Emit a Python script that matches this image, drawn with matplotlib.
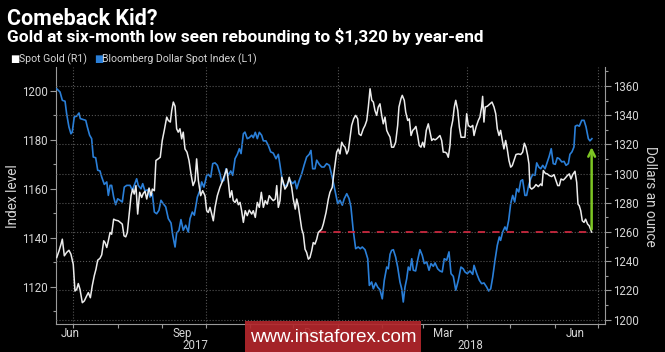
import matplotlib
matplotlib.use("Agg")
import matplotlib.pyplot as plt
import pandas as pd
from matplotlib.patches import Rectangle

# x positions are days after 2017-06-19 (left edge of the chart)
base = pd.Timestamp("2017-06-19")

dollar_days = [0.5, 2.8, 4.4, 6.3, 7.4, 9.0, 10.4, 11.3, 12.7, 14.4, 16.0, 16.9, 19.0, 20.7, 21.8,
               23.4, 24.8, 25.9, 27.6, 29.0, 30.6, 31.8, 33.6, 35.3, 36.4, 37.6, 38.7, 40.1, 41.5,
               42.9, 44.5, 46.1, 47.5, 49.2, 51.5, 53.1, 54.4, 56.1, 57.2, 59.1, 60.3, 61.9, 63.8,
               65.4, 67.0, 68.4, 70.0, 71.6, 73.0, 74.6, 76.3, 78.1, 80.0, 81.2, 82.8, 83.9, 85.5,
               86.9, 88.5, 90.2, 92.0, 93.2, 94.8, 96.2, 98.3, 100.1, 101.3, 102.9, 104.8, 105.9,
               107.6, 109.0, 110.6, 112.2, 114.0, 115.2, 116.8, 118.2, 119.8, 121.5, 122.9, 124.5,
               126.1, 127.5, 128.7, 130.3, 131.4, 133.0, 134.4, 136.1, 137.2, 138.6, 140.0, 141.4,
               143.0, 144.2, 146.0, 147.6, 149.3, 151.1, 153.0, 154.6, 155.8, 157.0, 158.1, 159.9,
               161.5, 162.7, 164.6, 166.2, 167.4, 169.2, 170.9, 172.5, 174.3, 176.1, 177.3, 178.5,
               180.1, 181.3, 183.1, 184.8, 186.4, 188.2, 190.1, 192.1, 194.0, 195.9, 197.5, 199.1,
               200.5, 202.2, 203.8, 205.1, 206.7, 208.4, 210.2, 211.6, 213.0, 214.9, 216.8, 217.9,
               219.5, 220.7, 222.3, 223.7, 225.3, 226.9, 228.3, 230.0, 231.1, 232.3, 233.4, 234.6,
               236.2, 237.6, 239.2, 240.4, 241.5, 242.7, 243.9, 245.0, 246.2, 247.4, 248.5, 250.1,
               251.5, 253.1, 254.7, 256.1, 257.8, 259.4, 260.8, 262.4, 263.6, 265.4, 267.0, 268.6,
               270.0, 271.7, 273.3, 274.7, 276.3, 278.0, 279.8, 281.6, 283.2, 284.4, 286.0, 287.9,
               289.8, 290.7, 292.6, 294.4, 296.0, 297.6, 299.5, 300.9, 302.3, 303.7, 305.3, 306.9,
               308.3, 309.2, 310.6, 312.2, 313.4, 314.8, 316.2, 317.6, 319.0, 320.4, 321.8, 323.2,
               324.5, 326.1, 327.3, 328.7, 330.1, 331.5, 333.1, 334.3, 335.7, 337.1, 338.5, 340.1,
               341.7, 343.0, 344.4, 345.8, 347.2, 348.6, 350.0, 351.7, 353.3, 354.7, 356.3, 357.4,
               358.8, 360.2, 361.1, 362.5, 363.9, 365.6, 367.2, 368.6, 370.2, 371.3, 372.7]
dollar_vals = [1200.9, 1199.6, 1196.2, 1195.8, 1190.7, 1185.3, 1182.5, 1183.2, 1189.4, 1189.7, 1191.0,
               1188.7, 1188.3, 1188.0, 1185.3, 1181.9, 1180.5, 1173.0, 1172.7, 1167.6, 1167.3, 1164.8,
               1161.8, 1162.8, 1157.3, 1161.4, 1161.4, 1156.6, 1153.5, 1155.9, 1155.3, 1154.6, 1160.7,
               1161.4, 1161.4, 1159.4, 1161.4, 1164.1, 1161.4, 1160.0, 1162.1, 1159.1, 1159.6, 1156.6,
               1158.0, 1150.5, 1149.8, 1151.2, 1155.3, 1153.9, 1152.6, 1147.8, 1146.0, 1141.0, 1136.2,
               1141.9, 1143.0, 1147.4, 1143.0, 1145.1, 1142.3, 1147.8, 1150.5, 1149.2, 1156.6, 1159.4,
               1162.8, 1160.7, 1165.5, 1165.9, 1164.8, 1170.3, 1170.6, 1169.6, 1166.2, 1162.8, 1163.5,
               1168.2, 1165.5, 1167.3, 1165.5, 1172.3, 1174.1, 1176.4, 1174.4, 1182.5, 1183.2, 1180.5,
               1180.9, 1181.9, 1180.9, 1183.1, 1180.5, 1183.1, 1181.9, 1179.6, 1179.6, 1177.8, 1175.1,
               1174.6, 1172.3, 1174.1, 1169.6, 1164.8, 1161.8, 1161.0, 1162.8, 1163.5, 1162.1, 1163.2,
               1160.0, 1163.5, 1166.2, 1169.6, 1173.0, 1174.1, 1175.7, 1168.2, 1168.2, 1171.7, 1170.0,
               1168.9, 1168.9, 1170.3, 1169.6, 1164.8, 1159.4, 1153.9, 1155.3, 1153.3, 1156.0, 1158.0,
               1156.0, 1152.6, 1143.0, 1135.5, 1136.2, 1135.5, 1136.2, 1135.1, 1131.4, 1120.5, 1121.9,
               1119.1, 1121.5, 1119.8, 1118.7, 1115.0, 1122.6, 1128.0, 1127.3, 1133.2, 1134.8, 1135.1,
               1132.1, 1128.0, 1121.9, 1119.1, 1113.7, 1119.8, 1123.2, 1128.0, 1126.7, 1131.4, 1126.7,
               1126.4, 1130.8, 1135.1, 1132.8, 1129.4, 1130.1, 1126.7, 1129.4, 1128.3, 1129.7, 1127.3,
               1126.4, 1126.0, 1131.4, 1130.8, 1134.2, 1125.3, 1124.2, 1118.5, 1122.6, 1128.0, 1127.3,
               1126.0, 1125.3, 1126.4, 1125.0, 1128.7, 1125.3, 1122.6, 1121.2, 1121.5, 1119.8, 1118.2,
               1119.1, 1123.9, 1130.8, 1136.9, 1140.3, 1138.9, 1142.3, 1144.4, 1143.0, 1147.1, 1153.9,
               1157.3, 1154.6, 1160.0, 1158.7, 1163.2, 1163.7, 1157.3, 1157.3, 1161.4, 1164.1, 1165.9,
               1165.5, 1170.6, 1168.9, 1168.2, 1169.6, 1168.2, 1171.0, 1173.3, 1176.4, 1170.3, 1170.0,
               1172.7, 1172.3, 1171.0, 1171.2, 1169.6, 1170.3, 1174.1, 1175.1, 1177.1, 1185.6, 1186.0,
               1185.6, 1188.0, 1188.0, 1185.3, 1180.5, 1179.6, 1180.5]

gold_days = [0.5, 2.1, 3.5, 4.4, 5.8, 7.4, 9.0, 10.4, 12.0, 13.2, 14.4, 15.5, 16.7, 18.3, 19.7, 21.3,
             22.5, 23.9, 25.2, 26.6, 27.8, 29.0, 30.6, 31.8, 33.2, 34.1, 35.3, 36.4, 37.6, 38.7, 40.1,
             41.5, 43.3, 44.7, 46.1, 47.3, 48.5, 49.6, 50.8, 52.2, 53.3, 54.4, 55.6, 56.8, 58.2, 59.6,
             60.7, 61.9, 63.1, 64.7, 66.1, 67.0, 68.4, 69.5, 71.1, 72.5, 73.9, 75.3, 77.0, 78.1, 79.5,
             80.5, 81.6, 82.8, 83.9, 85.0, 86.2, 87.4, 88.5, 89.7, 91.1, 92.5, 93.9, 95.3, 96.7, 97.8,
             99.0, 100.6, 102.0, 103.6, 104.8, 105.9, 107.1, 108.3, 109.4, 110.6, 112.2, 114.0, 115.9,
             117.5, 118.7, 119.8, 121.0, 122.2, 123.3, 124.5, 125.7, 126.8, 128.0, 129.1, 130.3, 131.6,
             133.0, 134.4, 136.1, 137.2, 138.6, 140.0, 141.4, 142.8, 144.2, 145.5, 146.9, 148.3, 150.0,
             151.1, 152.5, 153.5, 154.6, 155.8, 157.0, 158.1, 159.2, 160.8, 162.2, 163.9, 165.0, 166.4,
             167.4, 168.5, 169.7, 170.9, 172.0, 173.2, 174.3, 175.5, 176.6, 177.8, 178.9, 180.1, 181.3,
             182.4, 183.6, 184.8, 185.9, 187.8, 189.4, 190.5, 192.1, 193.5, 195.2, 196.3, 197.5, 198.7,
             199.8, 201.0, 202.2, 203.3, 204.4, 205.6, 207.0, 208.4, 209.8, 210.7, 212.1, 213.7, 214.9,
             216.1, 217.2, 218.4, 219.6, 220.7, 221.8, 223.0, 224.1, 225.3, 226.5, 227.6, 228.8, 230.0,
             231.1, 232.3, 233.4, 234.8, 236.2, 237.6, 238.5, 239.9, 240.8, 242.2, 243.2, 244.6, 245.7,
             246.9, 248.1, 249.2, 250.3, 251.5, 252.6, 253.8, 255.0, 256.1, 257.5, 258.9, 260.1, 261.3,
             262.4, 263.6, 264.7, 265.9, 267.0, 268.2, 269.3, 270.5, 271.7, 272.8, 274.0, 274.7, 275.9,
             277.0, 278.0, 279.4, 280.5, 281.7, 284.4, 285.6, 286.7, 288.4, 289.8, 290.7, 292.1, 293.7,
             294.8, 296.0, 296.7, 297.6, 298.5, 299.9, 301.8, 303.2, 304.6, 305.8, 306.9, 308.1, 309.2,
             310.4, 311.5, 312.7, 313.8, 315.0, 316.2, 317.3, 318.5, 319.9, 321.5, 323.2, 324.5, 325.7,
             326.8, 328.0, 328.9, 329.6, 330.8, 332.4, 333.8, 335.4, 337.1, 338.0, 338.9, 340.3, 341.7,
             343.0, 344.7, 346.3, 347.7, 348.9, 350.0, 351.2, 352.8, 354.2, 355.6, 357.0, 358.1, 359.3,
             360.9, 362.1, 363.0, 363.9, 364.9, 366.0, 367.2, 368.3, 369.7, 370.8, 372.5]
gold_vals = [1242.5, 1247.1, 1251.7, 1255.1, 1243.7, 1246.0, 1247.5, 1244.8, 1237.9, 1219.6, 1220.7,
             1224.7, 1220.7, 1211.6, 1212.8, 1216.2, 1218.5, 1215.0, 1223.1, 1230.0, 1234.5, 1240.7,
             1242.0, 1244.4, 1254.0, 1252.8, 1249.4, 1254.0, 1259.7, 1258.5, 1268.8, 1268.1, 1267.7,
             1266.6, 1265.4, 1257.4, 1256.7, 1259.7, 1271.2, 1284.9, 1289.4, 1286.0, 1291.8, 1272.3,
             1287.2, 1283.7, 1286.5, 1287.9, 1282.6, 1290.1, 1284.9, 1289.4, 1288.3, 1309.0, 1310.1,
             1311.2, 1322.7, 1329.6, 1338.7, 1336.4, 1335.3, 1343.3, 1349.0, 1346.1, 1330.7, 1328.4,
             1330.7, 1323.8, 1328.4, 1316.9, 1314.7, 1309.0, 1299.7, 1291.8, 1295.3, 1310.1, 1295.3,
             1284.9, 1288.3, 1284.9, 1274.6, 1273.4, 1276.9, 1272.3, 1267.7, 1276.9, 1284.9, 1290.6,
             1295.2, 1299.8, 1303.2, 1295.2, 1283.7, 1288.3, 1281.5, 1280.3, 1282.6, 1278.7, 1280.3,
             1274.6, 1266.6, 1274.6, 1271.2, 1275.0, 1272.3, 1274.6, 1270.0, 1280.3, 1276.9, 1287.2,
             1276.9, 1281.5, 1279.1, 1284.9, 1282.6, 1281.5, 1282.6, 1291.8, 1276.9, 1281.5, 1297.5,
             1294.0, 1289.4, 1291.8, 1297.5, 1290.6, 1282.6, 1275.7, 1282.6, 1278.0, 1270.0, 1262.0,
             1258.5, 1248.2, 1246.0, 1241.4, 1242.5, 1247.1, 1252.8, 1251.7, 1255.1, 1259.7, 1260.9,
             1262.0, 1265.4, 1273.4, 1282.6, 1287.2, 1290.6, 1302.1, 1314.7, 1316.9, 1313.5, 1321.5,
             1319.3, 1318.1, 1313.5, 1315.8, 1323.8, 1333.0, 1337.5, 1339.9, 1337.5, 1327.2, 1326.1,
             1330.7, 1333.0, 1336.4, 1345.6, 1358.1, 1350.2, 1349.0, 1343.3, 1339.9, 1345.6, 1347.8,
             1339.9, 1334.1, 1338.7, 1329.6, 1327.2, 1325.0, 1318.1, 1318.1, 1321.5, 1333.0, 1345.6,
             1351.3, 1353.6, 1350.2, 1342.1, 1336.4, 1337.5, 1326.1, 1329.6, 1330.7, 1332.3, 1326.1,
             1319.3, 1318.1, 1321.5, 1318.1, 1329.6, 1334.1, 1328.4, 1322.7, 1323.8, 1323.1, 1323.8,
             1325.0, 1326.1, 1322.7, 1314.7, 1314.7, 1314.0, 1311.2, 1319.3, 1330.7, 1336.4, 1345.6,
             1350.2, 1343.3, 1331.8, 1324.9, 1324.9, 1341.0, 1333.0, 1331.8, 1333.0, 1326.1, 1331.8,
             1336.4, 1338.7, 1345.6, 1352.9, 1335.3, 1345.6, 1346.1, 1347.8, 1349.0, 1345.6, 1341.0,
             1330.7, 1326.1, 1329.6, 1322.7, 1316.9, 1322.7, 1316.9, 1309.0, 1304.4, 1305.5, 1309.0,
             1313.1, 1313.5, 1313.1, 1314.7, 1320.8, 1318.1, 1312.4, 1306.6, 1290.6, 1289.4, 1290.6,
             1292.5, 1291.1, 1292.9, 1291.8, 1302.1, 1300.2, 1299.8, 1298.7, 1298.0, 1299.3, 1295.2,
             1291.8, 1291.8, 1296.3, 1295.6, 1297.0, 1298.7, 1299.8, 1296.3, 1299.3, 1301.6, 1294.0,
             1279.1, 1278.0, 1274.6, 1267.7, 1266.6, 1268.8, 1265.4, 1264.3, 1260.0]

low_level = 1260
target_level = 1320
low_line_start = 182.6  # days, start of dashed line

month_labels = ["Jun", "Sep", "Dec", "Mar", "Jun"]
month_label_dates = ["2017-06-29", "2017-09-15", "2017-12-15", "2018-03-15", "2018-06-15"]
year_labels = ["2017", "2018"]
year_label_dates = ["2017-09-24", "2018-04-03"]


def to_dates(days):
    return base + pd.to_timedelta(days, unit="D")


BG = "black"
TXT = "#d6d6d6"
GRID = "#555555"
SPINE = "#9a9a9a"
BLUE = "#2a7fd8"
WHITE = "#ececec"
NUM_FONT = ["Roboto", "DejaVu Sans"]
NARROW = ["Liberation Sans Narrow", "Roboto", "DejaVu Sans"]

fig = plt.figure(figsize=(6.65, 3.52), dpi=100, facecolor=BG)
ax = fig.add_axes([0.0842, 0.0795, 0.8256, 0.7301])
ax.set_facecolor(BG)
ax2 = ax.twinx()
ax2.patch.set_visible(False)

ax.plot(to_dates(dollar_days), dollar_vals, color=BLUE, lw=1.2, zorder=3)
ax2.plot(to_dates(gold_days), gold_vals, color=WHITE, lw=1.1, zorder=3)

end_day = gold_days[-1]
ax2.plot(to_dates([low_line_start, end_day]), [low_level, low_level],
         color="#c9283e", lw=1.3, ls=(0, (4, 4)), zorder=2)
ax2.annotate("", xy=(to_dates([end_day])[0], target_level),
             xytext=(to_dates([end_day])[0], low_level),
             arrowprops=dict(arrowstyle="->", color="#7dc623", lw=1.8, mutation_scale=12))

ax.set_xlim(to_dates([0])[0], to_dates([381.8])[0])
ax.set_ylim(1104.7, 1209.8)
ax2.set_ylim(1197, 1373)

months = pd.date_range("2017-07-01", "2018-07-01", freq="MS")
quarters = pd.date_range("2017-07-01", "2018-07-01", freq="QS-JAN")
ax.set_xticks(quarters)
ax.set_xticks(months, minor=True)
ax.set_xticklabels([])
ax.xaxis.grid(True, which="major", ls=":", color=GRID, lw=0.8)

ax.set_yticks([1120, 1140, 1160, 1180, 1200])
ax.set_yticks(range(1110, 1210, 10), minor=True)
ax2.set_yticks(range(1200, 1361, 20))
ax2.set_yticks(range(1210, 1371, 10), minor=True)
ax2.yaxis.grid(True, which="major", ls=":", color=GRID, lw=0.8)
ax2.set_axisbelow(True)

for a in (ax, ax2):
    for s in a.spines.values():
        s.set_visible(False)
    a.tick_params(which="both", colors=SPINE, labelcolor=TXT, labelsize=8.3, direction="out")
    a.tick_params(which="major", length=4, width=0.8, pad=2)
    a.tick_params(which="minor", length=2, width=0.8)
    for lab in a.get_yticklabels():
        lab.set_family(NUM_FONT)
ax.spines["left"].set_visible(True)
ax.spines["left"].set_color(SPINE)
ax.spines["bottom"].set_visible(True)
ax.spines["bottom"].set_color(SPINE)
ax2.spines["right"].set_visible(True)
ax2.spines["right"].set_color(SPINE)
ax.tick_params(axis="x", which="both", length=3)

xt = ax.get_xaxis_transform()
for lab, d in zip(month_labels, month_label_dates):
    ax.text(pd.Timestamp(d), -0.035, lab, transform=xt, ha="center", va="center",
            color=TXT, fontsize=8.3, family=NUM_FONT)
for lab, d in zip(year_labels, year_label_dates):
    ax.text(pd.Timestamp(d), -0.082, lab, transform=xt, ha="center", va="center",
            color=TXT, fontsize=8.3, family=NUM_FONT)

fig.text(0.019, 0.443, "Index level", rotation=90, ha="center", va="center",
         color=TXT, fontsize=9.8, family=NUM_FONT)
fig.text(0.977, 0.443, "Dollars an ounce", rotation=270, ha="center", va="center",
         color=TXT, fontsize=9.8, family=NUM_FONT)

fig.text(0.011, 1 - 25 / 352, "Comeback Kid?", color="white", fontsize=15.5,
         weight="bold", family=NUM_FONT, va="baseline")
fig.text(0.011, 1 - 42 / 352, "Gold at six-month low seen rebounding to $1,320 by year-end",
         color="white", fontsize=12.4, weight="bold", family=NUM_FONT, va="baseline")

fig.text(0.015, 1 - 59 / 352, "\u25a0", color="white", fontsize=7, va="center")
fig.text(0.028, 1 - 59 / 352, "Spot Gold (R1)", color=TXT, fontsize=7.6, va="center", family=NARROW)
fig.text(0.141, 1 - 59 / 352, "\u25a0", color=BLUE, fontsize=7, va="center")
fig.text(0.154, 1 - 59 / 352, "Bloomberg Dollar Spot Index (L1)", color=TXT, fontsize=7.6,
         va="center", family=NARROW)

fig.patches.append(Rectangle((245 / 665, 0), 176 / 665, 31 / 352, transform=fig.transFigure,
                             facecolor="#b3272c", alpha=0.92, zorder=5))
fig.text(333 / 665, 1 - 337 / 352, "www.instaforex.com", color="white", fontsize=13.5,
         ha="center", va="center", family=["Liberation Sans", "DejaVu Sans"], zorder=6)

fig.savefig("out.png", dpi=100, facecolor=BG)
